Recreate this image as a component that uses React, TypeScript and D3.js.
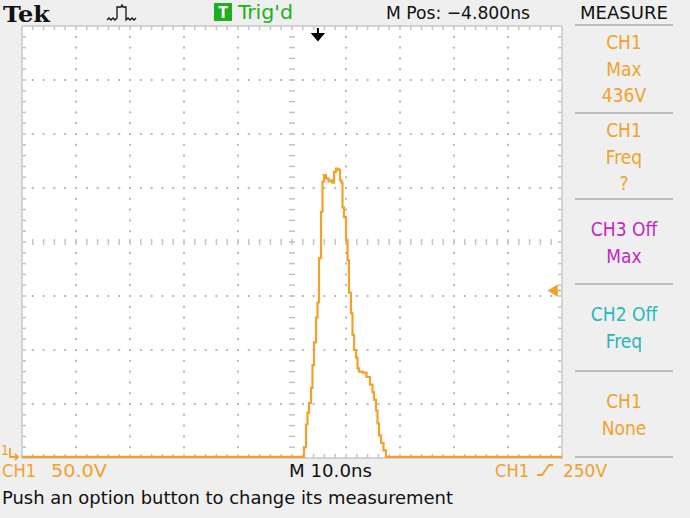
import React from 'react';
import * as d3 from 'd3';

// ---- data ----
const timeNs = [-50, 2.04, 2.41, 2.78, 2.96, 3.33, 3.7, 3.89, 4.26, 4.63, 4.81, 5.19, 5.56, 5.74, 6.11, 6.48, 7.04, 7.41, 7.59, 7.96, 8.33, 8.7, 9.07, 9.26, 9.44, 9.81, 10.19, 10.37, 10.74, 11.11, 11.3, 11.67, 12.04, 12.22, 12.59, 13.52, 14.07, 14.81, 15.0, 15.37, 15.74, 15.93, 16.3, 16.67, 17.22, 17.59, 50];
const volts = [1, 1, 10, 31, 42, 51, 65, 86, 107, 130, 144, 185, 228, 256, 262, 259, 256, 257, 255, 265, 268, 267, 257, 255, 232, 223, 202, 183, 153, 134, 114, 100, 93, 83, 80, 79, 75, 68, 61, 54, 44, 32, 21, 14, 7, 1, 1];
const timeDomain = [-50, 50];
const voltDomain = [0, 400];
const hDivs = 10;
const vDivs = 8;
const minorPerDiv = 5;
const triggerTimeNs = 4.8;
const triggerLevelV = 155;
const measureTitles = ['CH1', 'CH1', 'CH3 Off', 'CH2 Off', 'CH1'];
const measureTypes = ['Max', 'Freq', 'Max', 'Freq', 'None'];
const measureValues = ['436V', '?', '', '', ''];
const measureColors = ['#f2a12a', '#f2a12a', '#c427c4', '#26b8b8', '#f2a12a'];
const topTitle = 'Tek';
const trigStatus = "Trig'd";
const posLabel = 'M Pos: \u22124.800ns';
const menuTitle = 'MEASURE';
const ch1Label = 'CH1';
const ch1Scale = '50.0V';
const timeScale = 'M 10.0ns';
const trigLabelA = 'CH1';
const trigLabelB = '250V';
const helpText = 'Push an option button to change its measurement';

const ORANGE = '#f2a12a';
const FONT = "'DejaVu Sans Condensed', 'Liberation Sans Narrow', 'DejaVu Sans', sans-serif";

export default function App() {
  const W = 690, H = 518;
  const L = 22, R = 562, T = 26, B = 458;
  const x = d3.scaleLinear().domain(timeDomain).range([L, R]);
  const y = d3.scaleLinear().domain(voltDomain).range([B, T]);
  const dx = (R - L) / hDivs;
  const dy = (B - T) / vDivs;
  const cx = (L + R) / 2;
  const cy = (T + B) / 2;

  const pts = timeNs.map((t, i) => [t, volts[i]] as [number, number]);
  const line = d3.line<[number, number]>().x(d => x(d[0])).y(d => y(d[1])).curve(d3.curveStep);

  const minorX = d3.range(0, hDivs * minorPerDiv + 1).map(i => L + i * dx / minorPerDiv);
  const minorY = d3.range(0, vDivs * minorPerDiv + 1).map(i => T + i * dy / minorPerDiv);
  const gridX = d3.range(1, hDivs).map(i => L + i * dx).filter(v => Math.abs(v - cx) > 1);
  const gridY = d3.range(1, vDivs).map(i => T + i * dy).filter(v => Math.abs(v - cy) > 1);

  const dots: any[] = [];
  gridX.forEach((gx, i) => minorY.slice(1, -1).forEach((my, j) => dots.push(<rect key={`vx${i}-${j}`} x={gx - 1} y={my - 1} width={2} height={2} fill="#b8b8b8" />)));
  gridY.forEach((gy, i) => minorX.slice(1, -1).forEach((mx, j) => dots.push(<rect key={`hy${i}-${j}`} x={mx - 1} y={gy - 1} width={2} height={2} fill="#b8b8b8" />)));

  const tickColor = '#c4c4c4';
  const ticks: any[] = [];
  minorX.slice(1, -1).forEach((mx, i) => {
    ticks.push(<line key={`tt${i}`} x1={mx} x2={mx} y1={T} y2={T + 4} stroke={tickColor} strokeWidth={1.5} />);
    ticks.push(<line key={`tb${i}`} x1={mx} x2={mx} y1={B} y2={B - 4} stroke={tickColor} strokeWidth={1.5} />);
    ticks.push(<line key={`tc${i}`} x1={mx} x2={mx} y1={cy - 3} y2={cy + 3} stroke={tickColor} strokeWidth={1.5} />);
  });
  minorY.slice(1, -1).forEach((my, i) => {
    ticks.push(<line key={`tl${i}`} x1={L} x2={L + 4} y1={my} y2={my} stroke={tickColor} strokeWidth={1.5} />);
    ticks.push(<line key={`tr${i}`} x1={R} x2={R - 4} y1={my} y2={my} stroke={tickColor} strokeWidth={1.5} />);
    ticks.push(<line key={`tm${i}`} x1={cx - 3} x2={cx + 3} y1={my} y2={my} stroke={tickColor} strokeWidth={1.5} />);
  });

  const sepYs = [25, 113, 199, 284, 371, 457];
  const panelCx = 624;
  const trigX = x(triggerTimeNs);
  const trigY = y(triggerLevelV);
  const fit = (len: number) => ({ textLength: len, lengthAdjust: 'spacingAndGlyphs' as const });

  return (
    <svg width={W} height={H} style={{ position: 'absolute', left: 0, top: 0, fontFamily: FONT }}>
      <rect x={0} y={0} width={W} height={H} fill="#efefef" />
      <rect x={L} y={T} width={R - L} height={B - T} fill="#ffffff" />
      {dots}
      {ticks}
      <rect x={L} y={T} width={R - L} height={B - T} fill="none" stroke="#c8c8c8" strokeWidth={1.5} />

      {/* trace */}
      <path d={line(pts) || ''} fill="none" stroke={ORANGE} strokeWidth={2.2} />

      {/* trigger position marker */}
      <path d={`M${trigX},${T + 2} V${T + 12} M${trigX - 5},${T + 8} L${trigX},${T + 14} L${trigX + 5},${T + 8} Z`} stroke="#000" strokeWidth={2} fill="#000" />
      {/* trigger level marker */}
      <path d={`M${R - 13},${trigY} L${R - 5},${trigY - 5} L${R - 5},${trigY + 5} Z M${R - 6},${trigY} H${R - 1}`} fill={ORANGE} stroke={ORANGE} strokeWidth={1.5} />
      {/* ground marker */}
      <text x={1} y={B - 3} fontSize={14} fill={ORANGE}>1</text>
      <path d={`M${10},${B - 10} V${B - 1} H${18} M${15},${B - 4} L${18},${B - 1} L${15},${B + 2}`} fill="none" stroke={ORANGE} strokeWidth={1.8} />

      {/* top bar */}
      <text x={3} y={22} fontSize={23} fontWeight="bold" fontFamily="'DejaVu Serif', 'Liberation Serif', serif" fill="#111" {...fit(47)}>{topTitle}</text>
      <path d="M107,20 l2,-2 l2,2 l2,-2 l2,2 l2,-2 V7 h4 l1,-2 l1,2 h3 V20 l2,-2 l2,2 l2,-2 l2,2 l2,-2" fill="none" stroke="#111" strokeWidth={1.3} />
      <rect x={214} y={3} width={18} height={18} fill="#1fae1f" />
      <text x={223} y={18} fontSize={15} fill="#fff" textAnchor="middle" fontWeight="bold">T</text>
      <text x={238} y={19} fontSize={19} fill="#22b022" {...fit(55)}>{trigStatus}</text>
      <text x={386} y={19} fontSize={18} fill="#111" {...fit(144)}>{posLabel}</text>
      <text x={580} y={19} fontSize={18} fill="#111" {...fit(88)}>{menuTitle}</text>

      {/* right measure panel */}
      {sepYs.map((sy, i) => <line key={`sep${i}`} x1={575} x2={673} y1={sy} y2={sy} stroke="#bdbdbd" strokeWidth={2} />)}
      {measureTitles.map((title, i) => {
        const top = sepYs[i];
        const lines = [title, measureTypes[i], measureValues[i]].filter(s => s !== '');
        const startY = i < 2 ? top + 24 : top + 37;
        return (
          <g key={`m${i}`} fill={measureColors[i]} fontSize={19} textAnchor="middle">
            {lines.map((s, k) => <text key={k} x={panelCx} y={startY + k * 26.5}>{s}</text>)}
          </g>
        );
      })}

      {/* bottom status */}
      <text x={2} y={477} fontSize={18} fill={ORANGE} {...fit(34)}>{ch1Label}</text>
      <text x={51} y={477} fontSize={18} fill={ORANGE} {...fit(56)}>{ch1Scale}</text>
      <text x={289} y={477} fontSize={18} fill="#111" {...fit(83)}>{timeScale}</text>
      <text x={495} y={477} fontSize={18} fill={ORANGE} {...fit(34)}>{trigLabelA}</text>
      <path d="M537,475 h5 l7,-10 h4" fill="none" stroke={ORANGE} strokeWidth={1.8} />
      <text x={563} y={477} fontSize={18} fill={ORANGE} {...fit(44)}>{trigLabelB}</text>
      <text x={2} y={504} fontSize={18} fill="#111" {...fit(451)}>{helpText}</text>
    </svg>
  );
}
